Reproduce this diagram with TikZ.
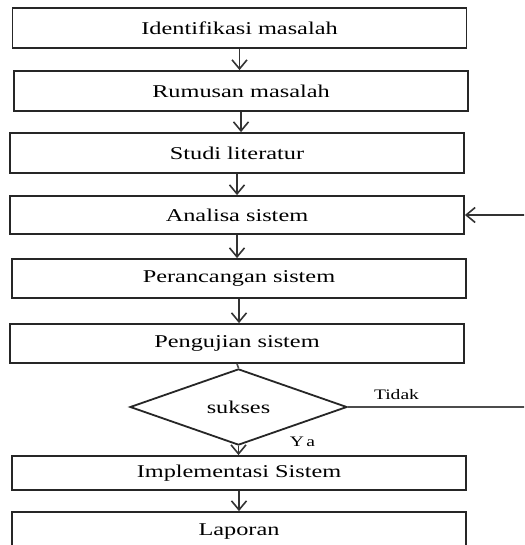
\documentclass[tikz,border=0pt]{standalone}
\usepackage{fontspec}
\setmainfont{Liberation Serif}[FakeStretch=1.35]
\usetikzlibrary{arrows.meta,shapes.geometric}
\begin{document}
\begin{tikzpicture}[x=1pt,y=-1pt,
  box/.style={draw=black!85,line width=1.8pt,fill=white,rectangle,inner sep=0pt,minimum width=454pt,font=\fontsize{18}{20}\selectfont},
  dec/.style={draw=black!85,line width=1.8pt,fill=white,diamond,inner sep=0pt,minimum width=217pt,minimum height=56pt,font=\fontsize{18}{20}\selectfont},
  arr/.style={draw=black!80,line width=1.6pt,-{Straight Barb[length=9pt,width=15pt,line width=1.6pt]}},
  ln/.style={draw=black!70,line width=1.6pt},
  lbl/.style={font=\fontsize{14.5}{16}\selectfont,inner sep=0pt}]
\clip (0,0) rectangle (524,545);
\fill[white] (0,0) rectangle (524,545);
\node[box,minimum height=40pt] (b1) at (239.5,28) {Identifikasi masalah};
\node[box,minimum height=40pt] (b2) at (241,91) {Rumusan masalah};
\node[box,minimum height=40pt] (b3) at (237,153) {Studi literatur};
\node[box,minimum height=38pt] (b4) at (237,215) {Analisa sistem};
\node[box,minimum height=39pt] (b5) at (239,278.5) {Perancangan sistem};
\node[box,minimum height=39pt] (b6) at (237,343.5) {Pengujian sistem};
\node[dec] (d) at (238.5,407) {sukses};
\node[box,minimum height=34pt] (b7) at (239,473) {Implementasi Sistem};
\node[box,minimum height=40pt] (b8) at (239,532) {Laporan};
\draw[arr] (b1.south) -- (b1.south |- b2.north);
\draw[arr] (b2.south) -- (b2.south |- b3.north);
\draw[arr] (b3.south) -- (b3.south |- b4.north);
\draw[arr] (b4.south) -- (b4.south |- b5.north);
\draw[arr] (b5.south) -- (b5.south |- b6.north);
\draw[ln] (b6.south) -- (d.north);
\draw[arr] (d.south) -- (d.south |- b7.north);
\draw[arr] (b7.south) -- (b7.south |- b8.north);
\coordinate (tidakEnd) at (530,407);
\coordinate (loopIn) at (530,215);
\draw[ln] (d.east) -- (tidakEnd);
\draw[arr] (loopIn) -- (b4.east);
\node[lbl] (tidak) at (396.5,395) {Tidak};
\node[lbl] (ya) at (302.5,442) {Y\,a};
\end{tikzpicture}
\end{document}
